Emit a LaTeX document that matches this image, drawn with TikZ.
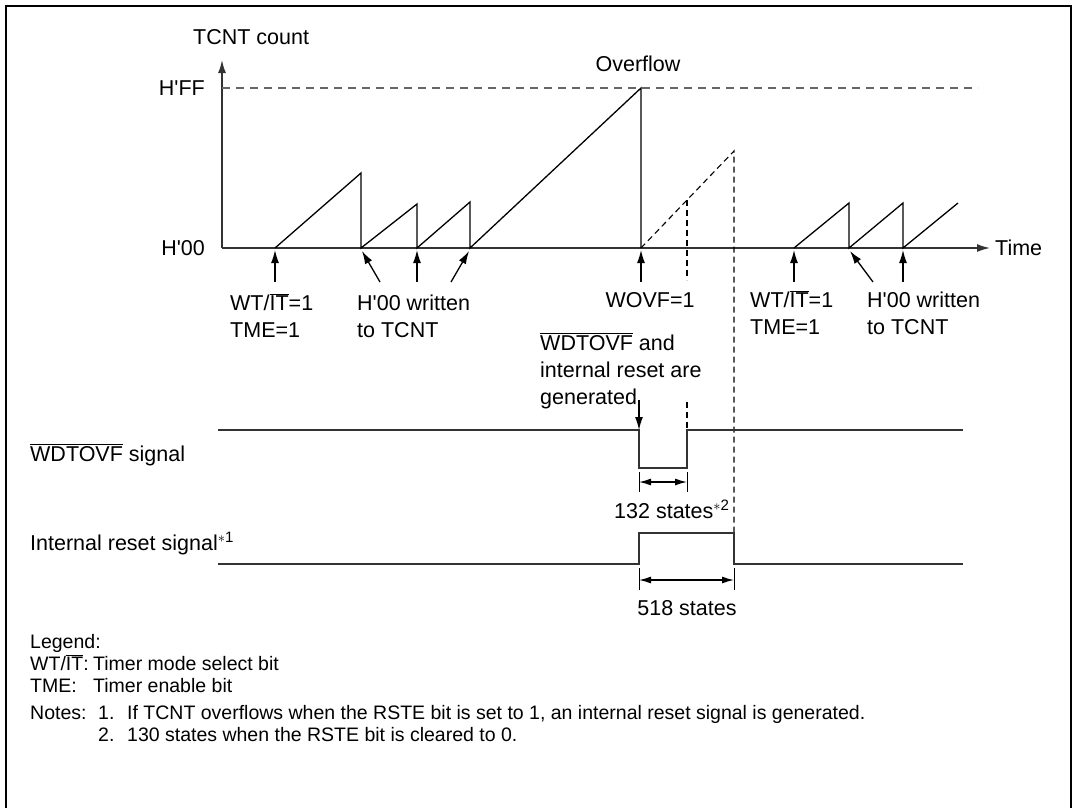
\documentclass[tikz,border=0pt]{standalone}
\usepackage{fontspec}
\setmainfont{Liberation Sans}[Ligatures=TeXOff]
\usetikzlibrary{arrows.meta}
\newcommand\ovl[1]{$\overline{\hbox{#1}}$}
\newcommand\noteref[1]{\textsuperscript{$\ast$#1}}
\begin{document}
\begin{tikzpicture}[x=1pt,y=-1pt,
 lbl/.style={font=\fontsize{21.5}{26}\selectfont, inner sep=0pt},
 lgd/.style={font=\fontsize{19.5}{23}\selectfont, inner sep=0pt},
 axis/.style={line width=1.6pt, draw=black!80, -{Latex[length=13pt,width=8pt]}},
 saw/.style={line width=1.3pt},
 dsh/.style={line width=1.1pt, dash pattern=on 6pt off 4pt},
 ptr/.style={line width=1.3pt, -{Latex[length=13pt,width=8pt]}},
 sig/.style={line width=1.7pt, draw=black!80},
 dim/.style={line width=1.3pt, {Latex[length=12pt,width=7pt]}-{Latex[length=12pt,width=7pt]}},
 tck/.style={line width=0.7pt},
 frm/.style={line width=2.2pt}]
\useasboundingbox (0,0) rectangle (1075,807);
% frame
\coordinate (fa) at (6,812); \coordinate (fb) at (6,6);
\coordinate (fc) at (1071,6); \coordinate (fd) at (1071,812);
\draw[frm] (fa) -- (fb) -- (fc) -- (fd);
% axes
\coordinate (O) at (222,248);
\coordinate (ytop) at (222,60);
\coordinate (xend) at (990,248);
\draw[axis] (O) -- (ytop);
\draw[axis] (O) -- (xend);
\coordinate (ffL) at (222,88); \coordinate (ffR) at (978,88);
\draw[dsh, draw=black!60, dash pattern=on 8pt off 6pt] (ffL) -- (ffR);
\node[lbl, anchor=west] (ycap) at (193,37) {TCNT count};
\node[lbl, anchor=east] (hff) at (205,88) {H'FF};
\node[lbl, anchor=east] (h00) at (205,248) {H'00};
\node[lbl, anchor=west] (time) at (995,248) {Time};
\node[lbl] (ovf) at (638,64) {Overflow};
% sawtooth
\coordinate (s0) at (275,248); \coordinate (s1) at (361,173); \coordinate (s2) at (361,248);
\coordinate (s3) at (417,204); \coordinate (s4) at (417,248); \coordinate (s5) at (470,202);
\coordinate (s6) at (470,248); \coordinate (s7) at (641,88); \coordinate (s8) at (641,248);
\draw[saw] (s0) -- (s1) -- (s2) -- (s3) -- (s4) -- (s5) -- (s6) -- (s7) -- (s8);
% dashed continuation
\coordinate (d1) at (687,200); \coordinate (d2) at (734,151);
\coordinate (d3) at (687,430); \coordinate (d4) at (734,533);
\coordinate (e1) at (687,280); \coordinate (e2) at (687,402);
\draw[dsh] (s8) -- (d2) -- (d4);
\draw[dsh] (d1) -- (e1);
\draw[dsh] (e2) -- (d3);
% right sawtooth
\coordinate (r0) at (794,248); \coordinate (r1) at (849,203); \coordinate (r2) at (849,248);
\coordinate (r3) at (903,203); \coordinate (r4) at (903,248); \coordinate (r5) at (958,203);
\draw[saw] (r0) -- (r1) -- (r2) -- (r3) -- (r4) -- (r5);
% pointer arrows
\coordinate (a1) at (275,282); \coordinate (b1) at (275,250);
\coordinate (a2) at (380,282); \coordinate (b2) at (362,251);
\coordinate (a3) at (417,282); \coordinate (b3) at (417,250);
\coordinate (a4) at (451,282); \coordinate (b4) at (469,251);
\coordinate (a5) at (641,282); \coordinate (b5) at (641,250);
\coordinate (a6) at (794,282); \coordinate (b6) at (794,250);
\coordinate (a7) at (873,282); \coordinate (b7) at (850,251);
\coordinate (a8) at (903,282); \coordinate (b8) at (903,250);
\foreach \i in {1,...,8} {\draw[ptr] (a\i) -- (b\i);}
% labels under axis
\node[lbl, anchor=base west] (l1a) at (230,310) {WT/\ovl{IT}=1};
\node[lbl, anchor=base west] (l1b) at (230,337) {TME=1};
\node[lbl, anchor=base west] (l2a) at (357,310) {H'00 written};
\node[lbl, anchor=base west] (l2b) at (357,337) {to TCNT};
\node[lbl, anchor=base] (l3) at (650,307) {WOVF=1};
\node[lbl, anchor=base west] (l4a) at (750,307) {WT/\ovl{IT}=1};
\node[lbl, anchor=base west] (l4b) at (750,334) {TME=1};
\node[lbl, anchor=base west] (l5a) at (867,307) {H'00 written};
\node[lbl, anchor=base west] (l5b) at (867,334) {to TCNT};
\node[lbl, anchor=base west] (l6a) at (540,350) {\ovl{WDTOVF} and};
\node[lbl, anchor=base west] (l6b) at (540,377) {internal reset are};
\node[lbl, anchor=base west] (l6c) at (540,404) {generated};
% signals
\coordinate (w0) at (218,430); \coordinate (w1) at (639,430); \coordinate (w2) at (639,468);
\coordinate (w3) at (687,468); \coordinate (w4) at (687,430); \coordinate (w5) at (963,430);
\draw[sig] (w0) -- (w1) -- (w2) -- (w3) -- (w4) -- (w5);
\coordinate (i0) at (218,564); \coordinate (i1) at (639,564); \coordinate (i2) at (639,533);
\coordinate (i3) at (734,533); \coordinate (i4) at (734,564); \coordinate (i5) at (963,564);
\draw[sig] (i0) -- (i1) -- (i2) -- (i3) -- (i4) -- (i5);
\coordinate (g0) at (639,400);
\draw[ptr] (g0) -- (w1);
% dimensions
\coordinate (t1a) at (639,472); \coordinate (t1b) at (639,492);
\coordinate (t2a) at (687,472); \coordinate (t2b) at (687,492);
\draw[tck] (t1a) -- (t1b); \draw[tck] (t2a) -- (t2b);
\coordinate (m1a) at (639,482); \coordinate (m1b) at (687,482);
\draw[dim] (m1a) -- (m1b);
\node[lbl, anchor=base west] (st132) at (614,518) {132 states\noteref{2}};
\coordinate (t3a) at (639,568); \coordinate (t3b) at (639,590);
\coordinate (t4a) at (734,568); \coordinate (t4b) at (734,590);
\draw[tck] (t3a) -- (t3b); \draw[tck] (t4a) -- (t4b);
\coordinate (m2a) at (639,580); \coordinate (m2b) at (734,580);
\draw[dim] (m2a) -- (m2b);
\node[lbl, anchor=base] (st518) at (687,615) {518 states};
\node[lbl, anchor=base west] (sigw) at (30,461) {\ovl{WDTOVF} signal};
\node[lbl, anchor=base west] (sigi) at (30,550) {Internal reset signal\noteref{1}};
% legend
\node[lgd, anchor=base west] (lg0) at (30,648) {Legend:};
\node[lgd, anchor=base west] (lg1) at (30,670) {WT/\ovl{IT}:};
\node[lgd, anchor=base west] (lg1t) at (93,670) {Timer mode select bit};
\node[lgd, anchor=base west] (lg2) at (30,692) {TME:};
\node[lgd, anchor=base west] (lg2t) at (93,692) {Timer enable bit};
\node[lgd, anchor=base west] (nt0) at (30,719) {Notes:};
\node[lgd, anchor=base west] (nt1) at (98,719) {1.};
\node[lgd, anchor=base west] (nt1t) at (127,719) {If TCNT overflows when the RSTE bit is set to 1, an internal reset signal is generated.};
\node[lgd, anchor=base west] (nt2) at (98,741) {2.};
\node[lgd, anchor=base west] (nt2t) at (127,741) {130 states when the RSTE bit is cleared to 0.};
\end{tikzpicture}
\end{document}
